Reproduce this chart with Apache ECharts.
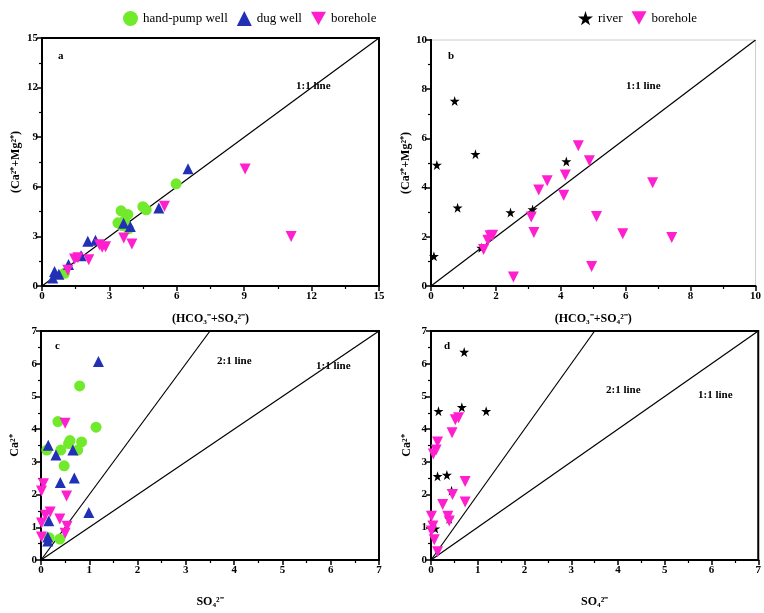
<!DOCTYPE html>
<html><head><meta charset="utf-8">
<script src="https://cdn.jsdelivr.net/npm/echarts@6/dist/echarts.min.js"></script>
<style>html,body{margin:0;padding:0;background:#fff}#c{width:764px;height:613px}</style>
</head><body><div id="c"></div>
<script>
// ---------- DATA ----------
// Panel a: (HCO3- + SO4 2-) vs (Ca2+ + Mg2+)
const aHandPump = [[1.0,0.77],[5.97,6.18],[3.52,4.55],[3.82,4.33],[3.38,3.82],[3.67,3.96],[3.57,3.66],[3.85,3.46],[4.49,4.8],[4.64,4.61]];
const aDugWell = [[0.48,0.49],[0.56,0.87],[0.75,0.71],[1.18,1.30],[1.74,1.83],[2.04,2.70],[2.38,2.76],[3.63,3.80],[3.93,3.60],[5.2,4.72],[6.5,7.09]];
const aBorehole = [[1.15,0.96],[1.45,1.63],[1.6,1.71],[2.08,1.59],[2.56,2.5],[2.68,2.34],[2.83,2.38],[3.64,2.91],[4.0,2.54],[5.45,4.82],[9.04,7.07],[11.09,3.0]];
// Panel b
const bRiver = [[0.09,1.21],[0.18,4.92],[0.73,7.52],[0.82,3.18],[1.37,5.36],[1.55,1.55],[2.45,2.99],[3.13,3.11],[4.17,5.06]];
const bBorehole = [[1.62,1.48],[1.75,1.86],[1.82,2.04],[1.9,2.06],[2.54,0.37],[3.09,2.8],[3.17,2.17],[3.32,3.9],[3.58,4.28],[4.09,3.69],[4.14,4.51],[4.54,5.70],[4.88,5.09],[6.83,4.2],[5.1,2.83],[5.91,2.12],[7.42,1.97],[4.95,0.79]];
// Panel c: SO4 2- vs Ca2+
const cHandPump = [[0.80,5.32],[0.35,4.23],[1.14,4.06],[0.60,3.65],[0.57,3.56],[0.84,3.61],[0.12,3.36],[0.41,3.36],[0.76,3.36],[0.48,2.88],[0.39,0.64],[0.17,0.68]];
const cDugWell = [[1.19,6.07],[0.15,3.51],[0.31,3.21],[0.66,3.36],[0.40,2.37],[0.69,2.51],[0.99,1.45],[0.16,1.20],[0.14,0.70],[0.14,0.58]];
const cBorehole = [[0.50,4.18],[0.05,2.33],[0.01,2.11],[0.53,1.96],[0.09,1.37],[0.19,1.47],[0.39,1.25],[0.01,1.13],[0.54,1.03],[0.50,0.82],[0.01,0.70]];
// Panel d
const dRiver = [[0.71,6.36],[0.16,4.55],[0.66,4.67],[1.18,4.55],[0.14,2.56],[0.34,2.60],[0.44,2.12],[0.39,1.26],[0.09,0.96]];
const dBorehole = [[0.52,4.29],[0.59,4.35],[0.45,3.89],[0.14,3.61],[0.11,3.36],[0.05,3.24],[0.73,2.40],[0.46,2.0],[0.25,1.70],[0.73,1.77],[0.36,1.34],[0.39,1.19],[0.01,1.34],[0.04,1.04],[0.01,0.89],[0.07,0.62],[0.14,0.25]];
// Reference lines
const line11a = [[0,0],[15,15]];
const line11b = [[0,0],[10,10]];
const line21cd = [[0,0],[3.5,7]];
const line11cd = [[0,0],[7,7]];

// ---------- STYLE ----------
const GREEN = '#72ea2c', BLUE = '#2130b5', PINK = '#ff1fcf';
const DOWN = 'path://M0,0 L10,0 L5,9 Z';
const STAR = 'path://M50,0 L61,35 L98,35 L68,57 L79,91 L50,70 L21,91 L32,57 L2,35 L39,35 Z';
const FONT = 'Liberation Serif';
const labelStyle = {fontFamily: FONT, fontWeight: 'bold', fontSize: 11, color: '#000'};
const nameStyle = {fontFamily: FONT, fontWeight: 'bold', fontSize: 12, color: '#000'};

function xAx(gi, max, interval, name, gap) {
  return {type:'value', gridIndex:gi, min:0, max:max, interval:interval,
    name:name, nameLocation:'middle', nameGap:gap, nameTextStyle:nameStyle,
    axisLine:{onZero:false, lineStyle:{color:'#000', width:2}},
    axisTick:{length:5, lineStyle:{color:'#000', width:1.5}},
    minorTick:{show:true, splitNumber:2, length:3, lineStyle:{color:'#000', width:1.2}},
    splitLine:{show:false}, axisLabel:Object.assign({margin:5}, labelStyle)};
}
function yAx(gi, max, interval, name, gap) {
  return {type:'value', gridIndex:gi, min:0, max:max, interval:interval,
    name:name, nameLocation:'middle', nameGap:gap, nameTextStyle:nameStyle,
    axisLine:{onZero:false, lineStyle:{color:'#000', width:2}},
    axisTick:{length:5, lineStyle:{color:'#000', width:1.5}},
    minorTick:{show:true, splitNumber:2, length:3, lineStyle:{color:'#000', width:1.2}},
    splitLine:{show:false}, axisLabel:Object.assign({margin:4}, labelStyle)};
}
function sc(name, gi, data, symbol, size, color) {
  return {type:'scatter', name:name, xAxisIndex:gi, yAxisIndex:gi, data:data,
    symbol:symbol, symbolSize:size, itemStyle:{color:color, opacity:1}, silent:true, z:3};
}
function ln(gi, data, color) {
  return {type:'line', xAxisIndex:gi, yAxisIndex:gi, data:data, symbol:'none', silent:true,
    lineStyle:{color:color||'#000', width:1.2}, z:2};
}
function txt(x, y, s, size) {
  return {type:'text', left:x, top:y, style:{text:s, font:'bold '+(size||11)+'px "Liberation Serif"', fill:'#000'}};
}

const chart = echarts.init(document.getElementById('c'));
chart.setOption({
  backgroundColor:'#fff',
  animation:false,
  legend:[
    {left:118, top:6, itemWidth:15, itemHeight:15, itemGap:9, textStyle:{fontFamily:FONT, fontSize:13, color:'#000'},
     data:[{name:'hand-pump well', icon:'circle'},{name:'dug well', icon:'triangle'},{name:'borehole', icon:DOWN}]},
    {left:573, top:6, itemWidth:15, itemHeight:15, itemGap:9, textStyle:{fontFamily:FONT, fontSize:13, color:'#000'},
     data:[{name:'river', icon:STAR},{name:'borehole', icon:DOWN}]}
  ],
  grid:[
    {left:42, right:385, top:38, bottom:327, show:true, borderColor:'#000', borderWidth:2},
    {left:431, right:5, top:40, bottom:327, show:true, borderColor:'#ccc', borderWidth:1},
    {left:41, right:385, top:331, bottom:53, show:true, borderColor:'#000', borderWidth:2},
    {left:431, right:5, top:331, bottom:53, show:true, borderColor:'#000', borderWidth:2}
  ],
  xAxis:[
    xAx(0, 15, 3, '(HCO\u2083\u207B+SO\u2084\u00B2\u207B)', 27),
    xAx(1, 10, 2, '(HCO\u2083\u207B+SO\u2084\u00B2\u207B)', 27),
    xAx(2, 7, 1, 'SO\u2084\u00B2\u207B', 36),
    xAx(3, 7, 1, 'SO\u2084\u00B2\u207B', 36)
  ],
  yAxis:[
    yAx(0, 15, 3, '(Ca\u00B2\u207A+Mg\u00B2\u207A)', 20),
    yAx(1, 10, 2, '(Ca\u00B2\u207A+Mg\u00B2\u207A)', 18),
    yAx(2, 7, 1, 'Ca\u00B2\u207A', 20),
    yAx(3, 7, 1, 'Ca\u00B2\u207A', 18),
    {type:'value', gridIndex:1, position:'right', min:0, max:10, axisLine:{show:true, lineStyle:{color:'#000', width:2}},
     axisTick:{show:false}, axisLabel:{show:false}, splitLine:{show:false}}
  ],
  series:[
    ln(0, line11a),
    ln(1, line11b),
    ln(2, line21cd), ln(2, line11cd),
    ln(3, line21cd), ln(3, line11cd),
    sc('hand-pump well', 0, aHandPump, 'circle', 11, GREEN),
    sc('dug well', 0, aDugWell, 'triangle', 11, BLUE),
    sc('borehole', 0, aBorehole, DOWN, 11, PINK),
    sc('river', 1, bRiver, STAR, 10, '#000'),
    sc('borehole', 1, bBorehole, DOWN, 11, PINK),
    sc('hand-pump well', 2, cHandPump, 'circle', 11, GREEN),
    sc('dug well', 2, cDugWell, 'triangle', 11, BLUE),
    sc('borehole', 2, cBorehole, DOWN, 11, PINK),
    sc('river', 3, dRiver, STAR, 10, '#000'),
    sc('borehole', 3, dBorehole, DOWN, 11, PINK)
  ],
  graphic:[
    txt(58, 51, 'a'), txt(448, 51, 'b'), txt(55, 341, 'c'), txt(444, 341, 'd'),
    txt(296, 81, '1:1 line'), txt(626, 81, '1:1 line'),
    txt(217, 356, '2:1 line'), txt(316, 361, '1:1 line'),
    txt(606, 385, '2:1 line'), txt(698, 390, '1:1 line')
  ]
});
</script></body></html>
